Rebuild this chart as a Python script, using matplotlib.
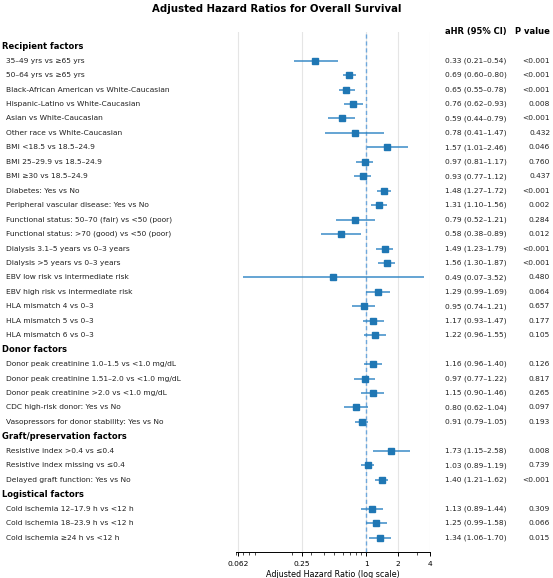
import numpy as np
import matplotlib.pyplot as plt
from matplotlib.ticker import NullFormatter
from matplotlib.transforms import blended_transform_factory

# groups and rows
group_names = ['Recipient factors', 'Donor factors',
               'Graft/preservation factors', 'Logistical factors']

recipient_labels = [
    '35–49 yrs vs ≥65 yrs', '50–64 yrs vs ≥65 yrs',
    'Black-African American vs White-Caucasian', 'Hispanic-Latino vs White-Caucasian',
    'Asian vs White-Caucasian', 'Other race vs White-Caucasian',
    'BMI <18.5 vs 18.5–24.9', 'BMI 25–29.9 vs 18.5–24.9', 'BMI ≥30 vs 18.5–24.9',
    'Diabetes: Yes vs No', 'Peripheral vascular disease: Yes vs No',
    'Functional status: 50–70 (fair) vs <50 (poor)',
    'Functional status: >70 (good) vs <50 (poor)',
    'Dialysis 3.1–5 years vs 0–3 years', 'Dialysis >5 years vs 0–3 years',
    'EBV low risk vs intermediate risk', 'EBV high risk vs intermediate risk',
    'HLA mismatch 4 vs 0–3', 'HLA mismatch 5 vs 0–3', 'HLA mismatch 6 vs 0–3']
recipient_hr = [0.33, 0.69, 0.65, 0.76, 0.59, 0.78, 1.57, 0.97, 0.93, 1.48,
                1.31, 0.79, 0.58, 1.49, 1.56, 0.49, 1.29, 0.95, 1.17, 1.22]
recipient_lo = [0.21, 0.60, 0.55, 0.62, 0.44, 0.41, 1.01, 0.81, 0.77, 1.27,
                1.10, 0.52, 0.38, 1.23, 1.30, 0.07, 0.99, 0.74, 0.93, 0.96]
recipient_hi = [0.54, 0.80, 0.78, 0.93, 0.79, 1.47, 2.46, 1.17, 1.12, 1.72,
                1.56, 1.21, 0.89, 1.79, 1.87, 3.52, 1.69, 1.21, 1.47, 1.55]
recipient_p = ['<0.001', '<0.001', '<0.001', '0.008', '<0.001', '0.432', '0.046',
               '0.760', '0.437', '<0.001', '0.002', '0.284', '0.012', '<0.001',
               '<0.001', '0.480', '0.064', '0.657', '0.177', '0.105']

donor_labels = [
    'Donor peak creatinine 1.0–1.5 vs <1.0 mg/dL',
    'Donor peak creatinine 1.51–2.0 vs <1.0 mg/dL',
    'Donor peak creatinine >2.0 vs <1.0 mg/dL',
    'CDC high-risk donor: Yes vs No',
    'Vasopressors for donor stability: Yes vs No']
donor_hr = [1.16, 0.97, 1.15, 0.80, 0.91]
donor_lo = [0.96, 0.77, 0.90, 0.62, 0.79]
donor_hi = [1.40, 1.22, 1.46, 1.04, 1.05]
donor_p = ['0.126', '0.817', '0.265', '0.097', '0.193']

graft_labels = ['Resistive index >0.4 vs ≤0.4', 'Resistive index missing vs ≤0.4',
                'Delayed graft function: Yes vs No']
graft_hr = [1.73, 1.03, 1.40]
graft_lo = [1.15, 0.89, 1.21]
graft_hi = [2.58, 1.19, 1.62]
graft_p = ['0.008', '0.739', '<0.001']

logistic_labels = ['Cold ischemia 12–17.9 h vs <12 h', 'Cold ischemia 18–23.9 h vs <12 h',
                   'Cold ischemia ≥24 h vs <12 h']
logistic_hr = [1.13, 1.25, 1.34]
logistic_lo = [0.89, 0.99, 1.06]
logistic_hi = [1.44, 1.58, 1.70]
logistic_p = ['0.309', '0.066', '0.015']

groups = [
    (recipient_labels, recipient_hr, recipient_lo, recipient_hi, recipient_p),
    (donor_labels, donor_hr, donor_lo, donor_hi, donor_p),
    (graft_labels, graft_hr, graft_lo, graft_hi, graft_p),
    (logistic_labels, logistic_hr, logistic_lo, logistic_hi, logistic_p),
]

fig = plt.figure(figsize=(5.53, 5.78), dpi=100)
ax = fig.add_axes([0.427, 0.045, 0.351, 0.9])
trans = blended_transform_factory(fig.transFigure, ax.transData)

fs = 5.4
blue = '#1f77b4'

row = 0
for name, (labels, hr, lo, hi, p) in zip(group_names, groups):
    ax.text(0.003, row, name, transform=trans, fontsize=fs + 0.6,
            fontweight='bold', va='center', ha='left')
    row += 1
    hr = np.array(hr)
    y = np.arange(row, row + len(hr))
    ax.errorbar(hr, y, xerr=[hr - np.array(lo), np.array(hi) - hr], fmt='none',
                ecolor='#2f85c4', elinewidth=1.3, alpha=0.8, zorder=3)
    ax.plot(hr, y, 's', color=blue, markersize=4.0, zorder=4)
    for i, lab in enumerate(labels):
        ax.text(0.011, y[i], lab, transform=trans, fontsize=fs, va='center',
                ha='left', color='#222222')
        ax.text(0.805, y[i], f'{hr[i]:.2f} ({lo[i]:.2f}–{hi[i]:.2f})',
                transform=trans, fontsize=fs, va='center', ha='left', color='#222222')
        ax.text(0.995, y[i], p[i], transform=trans, fontsize=fs, va='center',
                ha='right', color='#222222')
    row += len(labels)

ax.text(0.805, -1, 'aHR (95% CI)', transform=trans, fontsize=fs + 0.6,
        fontweight='bold', va='center', ha='left')
ax.text(0.995, -1, 'P value', transform=trans, fontsize=fs + 0.6,
        fontweight='bold', va='center', ha='right')

ax.axvline(1, color='#6fa8dc', linestyle=(0, (3, 2)), linewidth=1, zorder=2)

ax.set_xscale('log')
ax.set_xlim(0.06, 4)
ax.set_ylim(row, -1)
ax.set_xticks([0.0625, 0.25, 1, 2, 4])
ax.set_xticklabels(['0.062', '0.25', '1', '2', '4'])
ax.xaxis.set_minor_formatter(NullFormatter())
ax.set_yticks([])
ax.tick_params(axis='x', labelsize=fs, length=3, width=0.7)
ax.tick_params(axis='x', which='minor', length=1.8, width=0.5)
ax.grid(axis='x', which='major', color='#e5e5e5', linewidth=0.8, zorder=0)
ax.set_axisbelow(True)
for s in ['top', 'right', 'left']:
    ax.spines[s].set_visible(False)
ax.spines['bottom'].set_linewidth(0.7)
ax.set_xlabel('Adjusted Hazard Ratio (log scale)', fontsize=fs + 0.4, labelpad=2)

fig.suptitle('Adjusted Hazard Ratios for Overall Survival', fontsize=7.3,
             fontweight='bold', y=0.993)

fig.savefig('out.png', dpi=100)
